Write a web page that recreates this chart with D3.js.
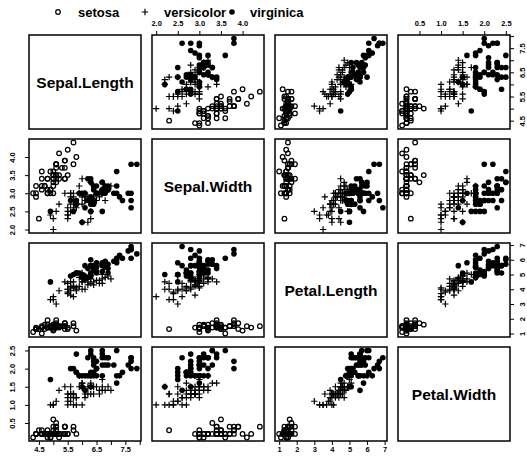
<!DOCTYPE html>
<html>
<head>
<meta charset="utf-8">
<script src="https://cdn.jsdelivr.net/npm/d3@7"></script>
<style>
  body { margin: 0; background: #fff; }
  svg { display: block; font-family: "Liberation Sans", Arial, sans-serif; }
</style>
</head>
<body>
<div class="chart"></div>
<script>
// iris: gemeten waarden per bloem (150 rijen)
var sepalLength = [5.1,4.9,4.7,4.6,5.0,5.4,4.6,5.0,4.4,4.9,5.4,4.8,4.8,4.3,5.8,5.7,5.4,5.1,5.7,5.1,5.4,5.1,4.6,5.1,4.8,5.0,5.0,5.2,5.2,4.7,4.8,5.4,5.2,5.5,4.9,5.0,5.5,4.9,4.4,5.1,5.0,4.5,4.4,5.0,5.1,4.8,5.1,4.6,5.3,5.0,
  7.0,6.4,6.9,5.5,6.5,5.7,6.3,4.9,6.6,5.2,5.0,5.9,6.0,6.1,5.6,6.7,5.6,5.8,6.2,5.6,5.9,6.1,6.3,6.1,6.4,6.6,6.8,6.7,6.0,5.7,5.5,5.5,5.8,6.0,5.4,6.0,6.7,6.3,5.6,5.5,5.5,6.1,5.8,5.0,5.6,5.7,5.7,6.2,5.1,5.7,
  6.3,5.8,7.1,6.3,6.5,7.6,4.9,7.3,6.7,7.2,6.5,6.4,6.8,5.7,5.8,6.4,6.5,7.7,7.7,6.0,6.9,5.6,7.7,6.3,6.7,7.2,6.2,6.1,6.4,7.2,7.4,7.9,6.4,6.3,6.1,7.7,6.3,6.4,6.0,6.9,6.7,6.9,5.8,6.8,6.7,6.7,6.3,6.5,6.2,5.9];
var sepalWidth = [3.5,3.0,3.2,3.1,3.6,3.9,3.4,3.4,2.9,3.1,3.7,3.4,3.0,3.0,4.0,4.4,3.9,3.5,3.8,3.8,3.4,3.7,3.6,3.3,3.4,3.0,3.4,3.5,3.4,3.2,3.1,3.4,4.1,4.2,3.1,3.2,3.5,3.6,3.0,3.4,3.5,2.3,3.2,3.5,3.8,3.0,3.8,3.2,3.7,3.3,
  3.2,3.2,3.1,2.3,2.8,2.8,3.3,2.4,2.9,2.7,2.0,3.0,2.2,2.9,2.9,3.1,3.0,2.7,2.2,2.5,3.2,2.8,2.5,2.8,2.9,3.0,2.8,3.0,2.9,2.6,2.4,2.4,2.7,2.7,3.0,3.4,3.1,2.3,3.0,2.5,2.6,3.0,2.6,2.3,2.7,3.0,2.9,2.9,2.5,2.8,
  3.3,2.7,3.0,2.9,3.0,3.0,2.5,2.9,2.5,3.6,3.2,2.7,3.0,2.5,2.8,3.2,3.0,3.8,2.6,2.2,3.2,2.8,2.8,2.7,3.3,3.2,2.8,3.0,2.8,3.0,2.8,3.8,2.8,2.8,2.6,3.0,3.4,3.1,3.0,3.1,3.1,3.1,2.7,3.2,3.3,3.0,2.5,3.0,3.4,3.0];
var petalLength = [1.4,1.4,1.3,1.5,1.4,1.7,1.4,1.5,1.4,1.5,1.5,1.6,1.4,1.1,1.2,1.5,1.3,1.4,1.7,1.5,1.7,1.5,1.0,1.7,1.9,1.6,1.6,1.5,1.4,1.6,1.6,1.5,1.5,1.4,1.5,1.2,1.3,1.4,1.3,1.5,1.3,1.3,1.3,1.6,1.9,1.4,1.6,1.4,1.5,1.4,
  4.7,4.5,4.9,4.0,4.6,4.5,4.7,3.3,4.6,3.9,3.5,4.2,4.0,4.7,3.6,4.4,4.5,4.1,4.5,3.9,4.8,4.0,4.9,4.7,4.3,4.4,4.8,5.0,4.5,3.5,3.8,3.7,3.9,5.1,4.5,4.5,4.7,4.4,4.1,4.0,4.4,4.6,4.0,3.3,4.2,4.2,4.2,4.3,3.0,4.1,
  6.0,5.1,5.9,5.6,5.8,6.6,4.5,6.3,5.8,6.1,5.1,5.3,5.5,5.0,5.1,5.3,5.5,6.7,6.9,5.0,5.7,4.9,6.7,4.9,5.7,6.0,4.8,4.9,5.6,5.8,6.1,6.4,5.6,5.1,5.6,6.1,5.6,5.5,4.8,5.4,5.6,5.1,5.1,5.9,5.7,5.2,5.0,5.2,5.4,5.1];
var petalWidth = [0.2,0.2,0.2,0.2,0.2,0.4,0.3,0.2,0.2,0.1,0.2,0.2,0.1,0.1,0.2,0.4,0.4,0.3,0.3,0.3,0.2,0.4,0.2,0.5,0.2,0.2,0.4,0.2,0.2,0.2,0.2,0.4,0.1,0.2,0.2,0.2,0.2,0.1,0.2,0.2,0.3,0.3,0.2,0.6,0.4,0.3,0.2,0.2,0.2,0.2,
  1.4,1.5,1.5,1.3,1.5,1.3,1.6,1.0,1.3,1.4,1.0,1.5,1.0,1.4,1.3,1.4,1.5,1.0,1.5,1.1,1.8,1.3,1.5,1.2,1.3,1.4,1.4,1.7,1.5,1.0,1.1,1.0,1.2,1.6,1.5,1.6,1.5,1.3,1.3,1.3,1.2,1.4,1.2,1.0,1.3,1.2,1.3,1.3,1.1,1.3,
  2.5,1.9,2.1,1.8,2.2,2.1,1.7,1.8,1.8,2.5,2.0,1.9,2.1,2.0,2.4,2.3,1.8,2.2,2.3,1.5,2.3,2.0,2.0,1.8,2.1,1.8,1.8,1.8,2.1,1.6,1.9,2.0,2.2,1.5,1.4,2.3,2.4,1.8,1.8,2.1,2.4,2.3,1.9,2.3,2.5,2.3,1.9,2.0,2.3,1.8];
// soort per rij: 0 = setosa, 1 = versicolor, 2 = virginica
var species = [0,0,0,0,0,0,0,0,0,0,0,0,0,0,0,0,0,0,0,0,0,0,0,0,0,0,0,0,0,0,0,0,0,0,0,0,0,0,0,0,0,0,0,0,0,0,0,0,0,0,
  1,1,1,1,1,1,1,1,1,1,1,1,1,1,1,1,1,1,1,1,1,1,1,1,1,1,1,1,1,1,1,1,1,1,1,1,1,1,1,1,1,1,1,1,1,1,1,1,1,1,
  2,2,2,2,2,2,2,2,2,2,2,2,2,2,2,2,2,2,2,2,2,2,2,2,2,2,2,2,2,2,2,2,2,2,2,2,2,2,2,2,2,2,2,2,2,2,2,2,2,2];
var speciesNames = ["setosa", "versicolor", "virginica"];

var varNames = ["Sepal.Length", "Sepal.Width", "Petal.Length", "Petal.Width"];
var columns = [sepalLength, sepalWidth, petalLength, petalWidth];

// tick posities en welke ervan een label krijgen
var tickValues = [
  [4.5, 5.0, 5.5, 6.0, 6.5, 7.0, 7.5, 8.0],
  [2.0, 2.5, 3.0, 3.5, 4.0],
  [1, 2, 3, 4, 5, 6, 7],
  [0.5, 1.0, 1.5, 2.0, 2.5]
];
var tickLabels = [
  ["4.5", "", "5.5", "", "6.5", "", "7.5", ""],
  ["2.0", "2.5", "3.0", "3.5", "4.0"],
  ["1", "2", "3", "4", "5", "6", "7"],
  ["0.5", "1.0", "1.5", "2.0", "2.5"]
];

var width = 527;
var height = 462;
var x0 = 29, y0 = 35;
var panelW = 112, panelH = 94;
var gapX = 11, gapY = 10;

var svg = d3.select(".chart").append("svg")
  .attr("width", width)
  .attr("height", height);

// schalen per variabele met 4% marge zoals in R
function paddedDomain(vals) {
  var ext = d3.extent(vals);
  var pad = (ext[1] - ext[0]) * 0.04;
  return [ext[0] - pad, ext[1] + pad];
}
var xScales = columns.map(function (vals, j) {
  var left = x0 + j * (panelW + gapX);
  return d3.scaleLinear().domain(paddedDomain(vals)).range([left, left + panelW]);
});
var yScales = columns.map(function (vals, i) {
  var top = y0 + i * (panelH + gapY);
  return d3.scaleLinear().domain(paddedDomain(vals)).range([top + panelH, top]);
});

var rows = d3.range(150).map(function (k) {
  return { sp: species[k], v: columns.map(function (c) { return c[k]; }) };
});

function drawSymbol(g, sp, x, y) {
  if (sp == 0) {
    g.append("circle").attr("cx", x).attr("cy", y).attr("r", 2.3)
      .attr("fill", "none").attr("stroke", "#000").attr("stroke-width", 1.25);
  } else if (sp == 1) {
    g.append("path")
      .attr("d", "M" + (x - 3.2) + "," + y + "H" + (x + 3.2) + "M" + x + "," + (y - 3.2) + "V" + (y + 3.2))
      .attr("stroke", "#000").attr("stroke-width", 1.2).attr("fill", "none");
  } else {
    g.append("circle").attr("cx", x).attr("cy", y).attr("r", 2.8).attr("fill", "#000");
  }
}

for (var i = 0; i < 4; i++) {
  for (var j = 0; j < 4; j++) {
    var xs = xScales[j];
    var ys = yScales[i];
    var panel = svg.append("g").attr("class", "panel");
    if (i == j) {
      panel.append("text")
        .attr("x", (xs.range()[0] + xs.range()[1]) / 2)
        .attr("y", (ys.range()[0] + ys.range()[1]) / 2 + 5.5)
        .attr("text-anchor", "middle")
        .attr("font-size", "15.5px")
        .attr("font-weight", "bold")
        .text(varNames[i]);
    } else {
      rows.forEach(function (d) {
        drawSymbol(panel, d.sp, xs(d.v[j]), ys(d.v[i]));
      });
    }
    panel.append("rect")
      .attr("x", xs.range()[0]).attr("y", ys.range()[1])
      .attr("width", panelW).attr("height", panelH)
      .attr("fill", "none").attr("stroke", "#000").attr("stroke-width", 1.5);
  }
}

// assen in R-stijl: boven/onder afwisselend, links/rechts afwisselend
function styleAxis(g) {
  g.select(".domain").remove();
  g.selectAll(".tick line").attr("stroke", "#000").attr("stroke-width", 1);
  g.selectAll(".tick text")
    .attr("font-family", "Liberation Sans, Arial, sans-serif")
    .attr("font-size", "7.5px")
    .attr("font-weight", "bold")
    .attr("fill", "#000");
}
function fmt(j) {
  return function (d, k) { return tickLabels[j][k]; };
}

[1, 3].forEach(function (j) {
  var g = svg.append("g").attr("transform", "translate(0," + y0 + ")")
    .call(d3.axisTop(xScales[j]).tickValues(tickValues[j]).tickFormat(fmt(j)).tickSizeOuter(0).tickSize(4).tickPadding(5));
  styleAxis(g);
});
[0, 2].forEach(function (j) {
  var g = svg.append("g").attr("transform", "translate(0," + (y0 + 3 * (panelH + gapY) + panelH) + ")")
    .call(d3.axisBottom(xScales[j]).tickValues(tickValues[j]).tickFormat(fmt(j)).tickSizeOuter(0).tickSize(4).tickPadding(2));
  styleAxis(g);
});
[1, 3].forEach(function (i) {
  var g = svg.append("g").attr("transform", "translate(" + x0 + ",0)")
    .call(d3.axisLeft(yScales[i]).tickValues(tickValues[i]).tickFormat(fmt(i)).tickSizeOuter(0).tickSize(4));
  styleAxis(g);
  g.selectAll(".tick text")
    .attr("x", null).attr("dy", null)
    .attr("text-anchor", "middle")
    .attr("transform", "translate(-14,0) rotate(-90)");
});
[0, 2].forEach(function (i) {
  var g = svg.append("g").attr("transform", "translate(" + (x0 + 3 * (panelW + gapX) + panelW) + ",0)")
    .call(d3.axisRight(yScales[i]).tickValues(tickValues[i]).tickFormat(fmt(i)).tickSizeOuter(0).tickSize(4));
  styleAxis(g);
  g.selectAll(".tick text")
    .attr("x", null).attr("dy", null)
    .attr("text-anchor", "middle")
    .attr("transform", "translate(15,0) rotate(-90)");
});

// legenda bovenaan
var legendSymbolX = [58, 145, 232];
var legendTextX = [78, 164, 250];
var legend = svg.append("g").attr("class", "legend");
speciesNames.forEach(function (name, k) {
  drawSymbol(legend, k, legendSymbolX[k], 12);
  legend.append("text")
    .attr("x", legendTextX[k]).attr("y", 16.5)
    .attr("font-size", "13px")
    .attr("font-weight", "bold")
    .text(name);
});
</script>
</body>
</html>
